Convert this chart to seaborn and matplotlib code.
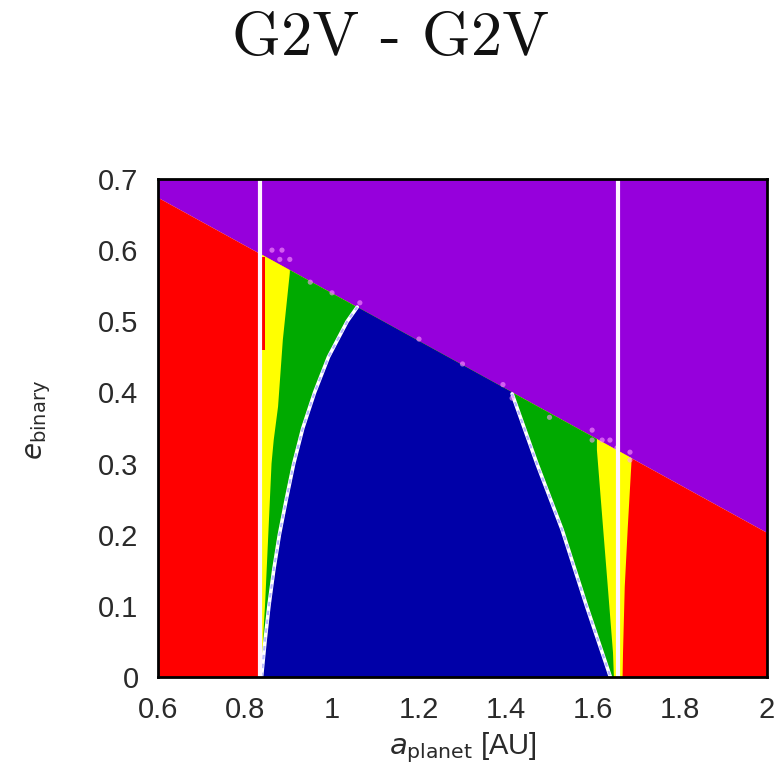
import numpy as np
import matplotlib
matplotlib.use("Agg")
import matplotlib.pyplot as plt
from matplotlib.patches import Polygon
import seaborn as sns

# stability limit (purple above, everything else below)
top_a = [0.6, 2.0]
top_e = [0.674, 0.203]

# habitable zone borders (white lines)
hz_inner = 0.834
hz_outer = 1.657

# blue region borders (white dashed curves)
blue_left_e = [0.0, 0.05, 0.1, 0.15, 0.2, 0.25, 0.3, 0.35, 0.4, 0.45, 0.5, 0.52]
blue_left_a = [0.838, 0.846, 0.855, 0.866, 0.879, 0.895, 0.912, 0.933, 0.960, 0.992, 1.035, 1.058]
blue_right_e = [0.398, 0.30, 0.207, 0.10, 0.0]
blue_right_a = [1.414, 1.471, 1.529, 1.585, 1.640]

# green / yellow border
yg_left_e = [0.0, 0.07, 0.1, 0.193, 0.3, 0.333, 0.38, 0.474, 0.568, 0.62]
yg_left_a = [0.838, 0.843, 0.846, 0.853, 0.861, 0.866, 0.876, 0.887, 0.903, 0.905]
yg_right_e = [0.36, 0.319, 0.211, 0.127, 0.034, 0.0]
yg_right_a = [1.609, 1.609, 1.623, 1.634, 1.646, 1.648]

# yellow / red border on the outer side
yr_right_e = [0.0, 0.034, 0.127, 0.211, 0.319, 0.36]
yr_right_a = [1.668, 1.669, 1.673, 1.680, 1.690, 1.692]

# small red strip next to the inner border
sliver_e = [0.46, 0.59]
sliver_a = [0.834, 0.846]

# unstable test points scattered along the limit
dots_a = [0.862, 0.885, 0.880, 0.903, 0.95, 1.0, 1.064, 1.2, 1.3, 1.393, 1.414,
          1.50, 1.598, 1.598, 1.621, 1.639, 1.655, 1.685, 1.685]
dots_e = [0.600, 0.600, 0.587, 0.587, 0.555, 0.540, 0.526, 0.475, 0.44, 0.411, 0.392,
          0.365, 0.347, 0.333, 0.333, 0.333, 0.322, 0.316, 0.305]

purple = '#9600dc'
red = '#ff0000'
yellow = '#ffff00'
green = '#00aa00'
blue = '#0000a8'
text_col = '#2a2a2a'

sns.set_theme(style='white')
plt.rcParams['font.family'] = ['Liberation Sans', 'DejaVu Sans']
plt.rcParams['mathtext.fontset'] = 'dejavusans'

fig = plt.figure(figsize=(7.82, 7.77), dpi=100)
ax = fig.add_axes([158 / 782, 100 / 777, 609 / 782, 498 / 777])
ax.set_xlim(0.6, 2.0)
ax.set_ylim(0, 0.7)

# base regions
ax.fill_between(top_a, top_e, 0.7, color=purple, lw=0, zorder=1)
ax.fill_between(top_a, 0, top_e, color=red, lw=0, zorder=1)

below = Polygon([(top_a[0], 0), (top_a[0], top_e[0]), (top_a[1], top_e[1]), (top_a[1], 0)],
                closed=True, transform=ax.transData, facecolor='none', edgecolor='none')
ax.add_patch(below)

# yellow band
yel = ax.fill([hz_inner, hz_inner] + yr_right_a[::-1],
              [0.0, 0.7] + yr_right_e[::-1],
              color=yellow, lw=0, zorder=2)
# green band
gx = yg_left_a + [yg_left_a[-1], yg_right_a[0]] + yg_right_a
gy = yg_left_e + [0.7, 0.7] + yg_right_e
grn = ax.fill(gx, gy, color=green, lw=0, zorder=3)
# blue core, topped off by the stability limit
bx = blue_left_a + [blue_left_a[-1], blue_right_a[0]] + blue_right_a
by = blue_left_e + [0.7, 0.7] + blue_right_e
blu = ax.fill(bx, by, color=blue, lw=0, zorder=4)
for p in yel + grn + blu:
    p.set_clip_path(below)

ax.fill_betweenx(sliver_e, sliver_a[0], sliver_a[1], color=red, lw=0, zorder=4)

# borders of the blue region
for xs, ys in [(blue_left_a, blue_left_e), (blue_right_a, blue_right_e)]:
    sns.lineplot(x=xs, y=ys, sort=False, estimator=None, color='white', lw=2.6, ax=ax, zorder=5)
    sns.lineplot(x=xs, y=ys, sort=False, estimator=None, color='#b8b8ff', lw=1.6, ax=ax,
                 zorder=6, linestyle=(0, (2, 2)))

sns.scatterplot(x=dots_a, y=dots_e, color='#ff9cff', s=14, edgecolor='none', alpha=0.6,
                ax=ax, zorder=6)

for xv in [hz_inner, hz_outer]:
    ax.axvline(xv, color='#fff4ff', lw=3, zorder=7)

for sp in ax.spines.values():
    sp.set_color('black')
    sp.set_linewidth(2)
    sp.set_zorder(8)

xt = [0.6, 0.8, 1.0, 1.2, 1.4, 1.6, 1.8, 2.0]
yt = [0, 0.1, 0.2, 0.3, 0.4, 0.5, 0.6, 0.7]
ax.set_xticks(xt)
ax.set_xticklabels(['0.6', '0.8', '1', '1.2', '1.4', '1.6', '1.8', '2'])
ax.set_yticks(yt)
ax.set_yticklabels(['0', '0.1', '0.2', '0.3', '0.4', '0.5', '0.6', '0.7'])
ax.tick_params(length=0, labelsize=21, pad=14, colors=text_col)

ax.set_xlabel(r'$a_{\mathrm{planet}}$ [AU]', fontsize=21, color=text_col, labelpad=4)
ax.set_ylabel(r'$e_{\mathrm{binary}}$', fontsize=20, color=text_col)
ax.yaxis.set_label_coords(-0.172, 0.516)

fig.text(0.5, 0.95, 'G2V - G2V', ha='center', va='center',
         fontsize=45, family=['cmr10', 'DejaVu Serif'], color='#111111')

fig.savefig('out.png', dpi=100, facecolor='white')
